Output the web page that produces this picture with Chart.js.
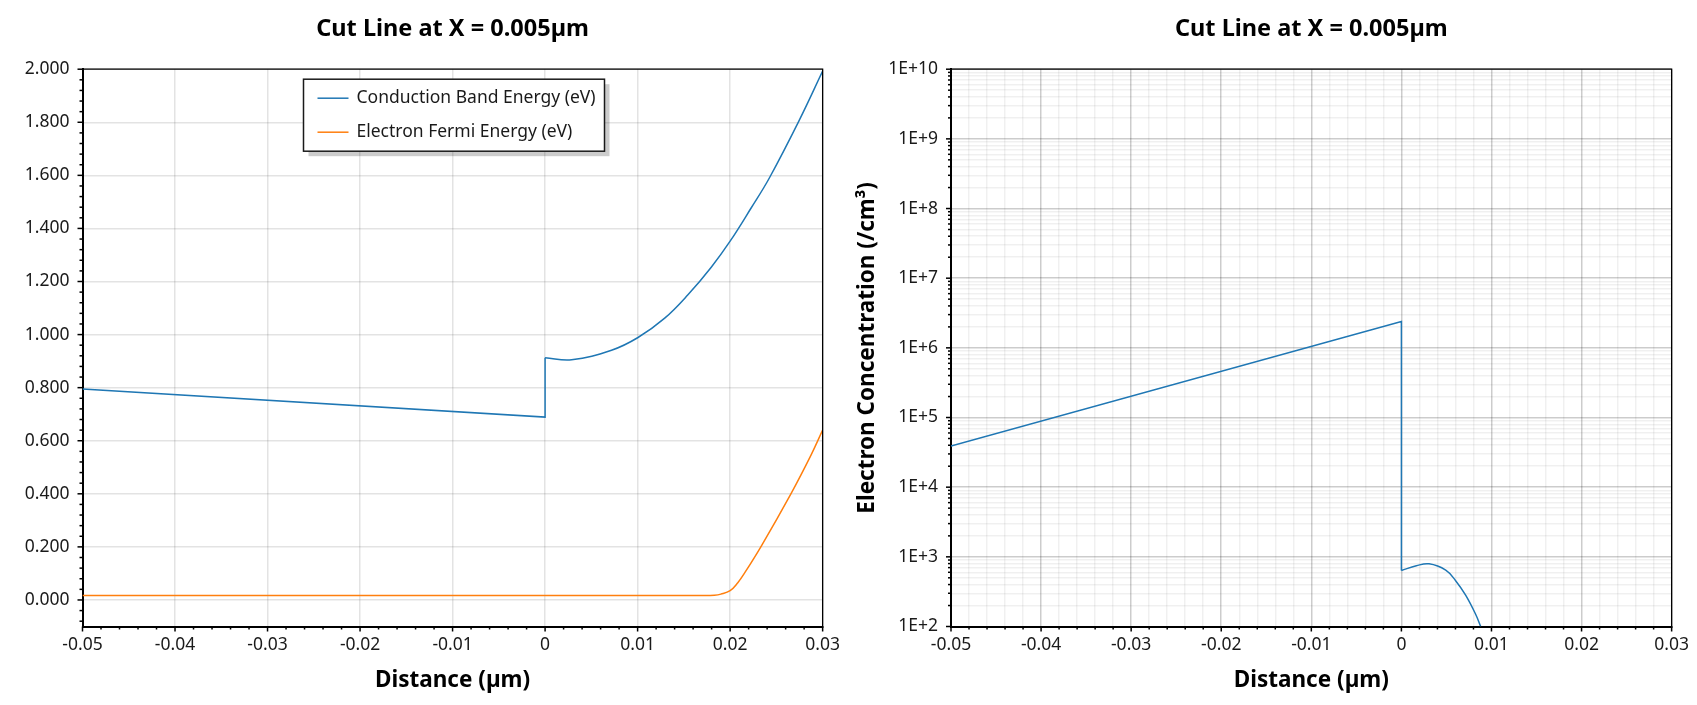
<!DOCTYPE html>
<html><head><meta charset="utf-8">
<script src="https://cdn.jsdelivr.net/npm/chart.js@4.4.1/dist/chart.umd.min.js"></script>
<style>
html,body{margin:0;padding:0;background:#fff;width:1697px;height:705px;overflow:hidden}
canvas{position:absolute;top:0}
#c1{left:0}
#c2{left:848px}
</style></head><body>
<canvas id="c1" width="848" height="705"></canvas>
<canvas id="c2" width="849" height="705"></canvas>
<script>
// ---- text ----
const chartTitle = 'Cut Line at X = 0.005µm';
const xAxisTitle = 'Distance (µm)';
const concAxisTitle = 'Electron Concentration (/cm³)';
const seriesNames = ['Conduction Band Energy (eV)', 'Electron Fermi Energy (eV)'];
const seriesColors = ['#1f77b4', '#ff7f0e'];

// ---- tick labels ----
const distTicks = [-0.05, -0.04, -0.03, -0.02, -0.01, 0, 0.01, 0.02, 0.03];
const distTickLabels = ['-0.05', '-0.04', '-0.03', '-0.02', '-0.01', '0', '0.01', '0.02', '0.03'];
const energyTicks = [0, 0.2, 0.4, 0.6, 0.8, 1.0, 1.2, 1.4, 1.6, 1.8, 2.0];
const energyTickLabels = ['0.000', '0.200', '0.400', '0.600', '0.800', '1.000', '1.200', '1.400', '1.600', '1.800', '2.000'];
const concTicks = [1e2, 1e3, 1e4, 1e5, 1e6, 1e7, 1e8, 1e9, 1e10];
const concTickLabels = ['1E+2', '1E+3', '1E+4', '1E+5', '1E+6', '1E+7', '1E+8', '1E+9', '1E+10'];

// ---- data: conduction band energy ----
const cbStepX = [-0.05, 0, 0];
const cbStepY = [0.795, 0.689, 0.913];
const cbCurveX = [0, 0.00287, 0.00718, 0.01, 0.01293, 0.01544, 0.01796, 0.02, 0.02227, 0.02424, 0.02748, 0.03];
const cbCurveY = [0.913, 0.905, 0.941, 0.988, 1.062, 1.150, 1.254, 1.352, 1.477, 1.590, 1.808, 1.993];

// ---- data: electron Fermi energy ----
const efX = [-0.05, 0.017, 0.0183, 0.019, 0.02, 0.02083, 0.0215, 0.0234, 0.02657, 0.02873, 0.03];
const efY = [0.017, 0.017, 0.018, 0.022, 0.035, 0.065, 0.098, 0.205, 0.400, 0.545, 0.640];

// ---- data: electron concentration ----
const ncStepX = [-0.05, 0, 0];
const ncStepY = [3.9e4, 2.39e6, 637];
const ncCurveX = [0, 0.00166, 0.00307, 0.00492, 0.00602, 0.00713, 0.00824, 0.0088];
const ncCurveY = [637, 745, 794, 645, 455, 282, 150, 100];

const pts = (xs, ys) => xs.map((x, i) => ({x, y: ys[i]}));

// ---- tick builders (major + minor) ----
function linTicks(majors, labels, step, min, max) {
  const out = [];
  const n0 = Math.ceil(min / step - 1e-9), n1 = Math.floor(max / step + 1e-9);
  for (let k = n0; k <= n1; k++) {
    const v = Math.round(k * step * 1e6) / 1e6;
    const mi = majors.findIndex(m => Math.abs(m - v) < step * 1e-3);
    out.push({value: v, major: mi >= 0, lbl: mi >= 0 ? labels[mi] : ''});
  }
  return out;
}
function logTicks(majors, labels) {
  const out = [];
  majors.forEach((m, i) => {
    out.push({value: m, major: true, lbl: labels[i]});
    if (i < majors.length - 1) for (let s = 2; s <= 9; s++) out.push({value: m * s, major: false, lbl: ''});
  });
  return out.sort((a, b) => a.value - b.value);
}

Chart.defaults.font.family = "'Noto Sans', 'Open Sans', sans-serif";
Chart.defaults.color = '#1a1a1a';

const FONT_TICK = {size: 17.5};
const FONT_TITLE = {size: 23.5, weight: 'bold'};
const FONT_AXIS = {size: 22.5, weight: 'bold'};

const framePlugin = {
  id: 'frameTicks',
  afterDraw(chart) {
    const {ctx, chartArea: a} = chart;
    ctx.save();
    ctx.strokeStyle = '#000';
    ctx.lineWidth = 1.3;
    ctx.beginPath();
    ctx.moveTo(a.left, a.top); ctx.lineTo(a.right, a.top); ctx.lineTo(a.right, a.bottom);
    ctx.stroke();
    ctx.lineWidth = 1.5;
    for (const s of Object.values(chart.scales)) {
      for (const t of s.ticks) {
        const p = s.getPixelForValue(t.value);
        const len = t.major ? 5 : 3;
        ctx.beginPath();
        if (s.isHorizontal()) { ctx.moveTo(p, a.bottom); ctx.lineTo(p, a.bottom + len); }
        else { ctx.moveTo(a.left - len, p); ctx.lineTo(a.left, p); }
        ctx.stroke();
      }
    }
    ctx.restore();
  }
};

const legendPlugin = {
  id: 'boxLegend',
  afterDraw(chart) {
    const {ctx, chartArea: a} = chart;
    const bx = a.left + 221, by = a.top + 10, bw = 301, bh = 72;
    ctx.save();
    ctx.fillStyle = 'rgba(0,0,0,0.2)';
    ctx.fillRect(bx + 5, by + 5, bw, bh);
    ctx.fillStyle = '#fff';
    ctx.fillRect(bx, by, bw, bh);
    ctx.strokeStyle = '#1a1a1a';
    ctx.lineWidth = 1.5;
    ctx.strokeRect(bx, by, bw, bh);
    ctx.font = "17.5px 'Noto Sans', sans-serif";
    ctx.textBaseline = 'middle';
    ctx.fillStyle = '#1a1a1a';
    seriesNames.forEach((name, i) => {
      const y = by + 19 + i * 34;
      ctx.strokeStyle = seriesColors[i];
      ctx.lineWidth = 1.5;
      ctx.beginPath(); ctx.moveTo(bx + 14, y); ctx.lineTo(bx + 45, y); ctx.stroke();
      ctx.fillText(name, bx + 53, y);
    });
    ctx.restore();
  }
};

function xScale(gridMajor, gridMinor) {
  return {
    type: 'linear', min: -0.05, max: 0.03,
    afterBuildTicks: s => { s.ticks = linTicks(distTicks, distTickLabels, 0.002, -0.05, 0.03); },
    afterFit: s => { s.height = 78.5; },
    ticks: {autoSkip: false, maxRotation: 0, padding: 8, font: FONT_TICK,
      callback: (v, i, t) => t[i].lbl},
    grid: {drawTicks: false, lineWidth: 1.5,
      color: c => (c.tick && c.tick.major) ? gridMajor : gridMinor},
    border: {display: true, color: '#000', width: 2},
    title: {display: true, text: xAxisTitle, font: FONT_AXIS, color: '#000', padding: {top: 0, bottom: 11}}
  };
}

const commonOpts = {
  responsive: false, animation: false, events: [],
  plugins: {
    legend: {display: false}, tooltip: {enabled: false},
    title: {display: true, text: chartTitle, fullSize: false, font: FONT_TITLE, color: '#000',
      padding: {top: 15, bottom: 26}}
  }
};

new Chart(document.getElementById('c1'), {
  type: 'scatter',
  data: {datasets: [
    {label: seriesNames[0], data: pts(cbStepX, cbStepY), showLine: true, borderColor: seriesColors[0],
      borderWidth: 1.5, pointRadius: 0, tension: 0},
    {label: seriesNames[0], data: pts(cbCurveX, cbCurveY), showLine: true, borderColor: seriesColors[0],
      borderWidth: 1.5, pointRadius: 0, tension: 0.4},
    {label: seriesNames[1], data: pts(efX, efY), showLine: true, borderColor: seriesColors[1],
      borderWidth: 1.5, pointRadius: 0, tension: 0.4}
  ]},
  options: Object.assign({}, commonOpts, {
    layout: {padding: {left: 0, right: 22.5, top: 0, bottom: 0}},
    scales: {
      x: xScale('rgba(0,0,0,0.11)', 'rgba(0,0,0,0)'),
      y: {
        type: 'linear', min: -0.1, max: 2.0,
        afterBuildTicks: s => { s.ticks = linTicks(energyTicks, energyTickLabels, 0.04, -0.1, 2.0); },
        afterFit: s => { s.width = 82.5; },
        ticks: {autoSkip: false, padding: 13, font: FONT_TICK, callback: (v, i, t) => t[i].lbl},
        grid: {drawTicks: false, lineWidth: 1.5,
          color: c => (c.tick && c.tick.major) ? 'rgba(0,0,0,0.11)' : 'rgba(0,0,0,0)'},
        border: {display: true, color: '#000', width: 2}
      }
    }
  }),
  plugins: [framePlugin, legendPlugin]
});

new Chart(document.getElementById('c2'), {
  type: 'scatter',
  data: {datasets: [
    {label: 'n', data: pts(ncStepX, ncStepY), showLine: true, borderColor: seriesColors[0],
      borderWidth: 1.5, pointRadius: 0, tension: 0},
    {label: 'n', data: pts(ncCurveX, ncCurveY), showLine: true, borderColor: seriesColors[0],
      borderWidth: 1.5, pointRadius: 0, tension: 0.4}
  ]},
  options: Object.assign({}, commonOpts, {
    layout: {padding: {left: 0, right: 24, top: 0, bottom: 0}},
    scales: {
      x: xScale('rgba(0,0,0,0.2)', 'rgba(0,0,0,0.06)'),
      y: {
        type: 'logarithmic', min: 1e2, max: 1e10,
        afterBuildTicks: s => { s.ticks = logTicks(concTicks, concTickLabels); },
        afterFit: s => { s.width = 103; },
        ticks: {autoSkip: false, padding: 13, font: FONT_TICK, callback: (v, i, t) => t[i].lbl},
        grid: {drawTicks: false, lineWidth: 1.5,
          color: c => (c.tick && c.tick.major) ? 'rgba(0,0,0,0.2)' : 'rgba(0,0,0,0.06)'},
        border: {display: true, color: '#000', width: 2},
        title: {display: true, text: concAxisTitle, font: FONT_AXIS, color: '#000', padding: {top: 6, bottom: 0}}
      }
    }
  }),
  plugins: [framePlugin]
});
</script>
</body></html>
